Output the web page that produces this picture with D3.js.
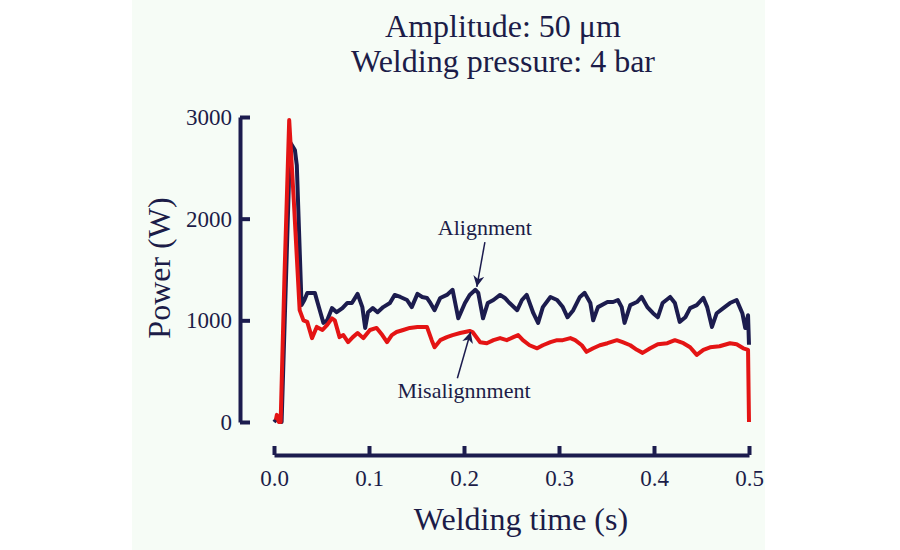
<!DOCTYPE html>
<html>
<head>
<meta charset="utf-8">
<script src="https://cdn.jsdelivr.net/npm/d3@7"></script>
<style>
    body { margin: 0; background: #ffffff; }
    text { font-family: "Liberation Serif", "DejaVu Serif", serif; fill: #1c1c48; }
</style>
</head>
<body>
<div id="chart"></div>
<script>
// welding time (s) and power (W)
let redTime = [0.002, 0.003, 0.005, 0.007, 0.011, 0.016, 0.021, 0.027, 0.031, 0.035, 0.040, 0.045, 0.051, 0.056, 0.061, 0.064,
    0.069, 0.073, 0.078, 0.083, 0.088, 0.094, 0.101, 0.108, 0.114, 0.119, 0.124, 0.129, 0.136, 0.143, 0.151, 0.161,
    0.166, 0.169, 0.175, 0.182, 0.188, 0.196, 0.206, 0.209, 0.217, 0.224, 0.231, 0.238, 0.245, 0.252, 0.257, 0.262,
    0.269, 0.277, 0.283, 0.291, 0.298, 0.304, 0.312, 0.317, 0.324, 0.329, 0.336, 0.343, 0.351, 0.361, 0.367, 0.375,
    0.382, 0.388, 0.396, 0.404, 0.414, 0.422, 0.431, 0.438, 0.445, 0.452, 0.459, 0.469, 0.480, 0.487, 0.494, 0.499, 0.500];
let redPower = [20, 70, 0, 0, 1425, 2970, 2150, 1100, 1000, 985, 825, 935, 905, 955, 1020, 1000,
    835, 855, 785, 835, 875, 825, 905, 925, 855, 785, 855, 885, 905, 925, 935, 935,
    805, 735, 805, 835, 855, 875, 895, 885, 785, 775, 805, 825, 805, 835, 855, 805,
    755, 725, 755, 785, 805, 805, 825, 805, 755, 690, 725, 755, 775, 805, 785, 755,
    710, 680, 725, 765, 775, 805, 775, 735, 660, 710, 735, 745, 775, 765, 725, 710, 0];

let blueTime = [0.000, 0.003, 0.006, 0.008, 0.017, 0.022, 0.024, 0.029, 0.032, 0.035, 0.043, 0.046, 0.052, 0.056, 0.061, 0.066,
    0.072, 0.077, 0.082, 0.088, 0.093, 0.096, 0.099, 0.104, 0.109, 0.115, 0.122, 0.127, 0.133, 0.140, 0.145, 0.151,
    0.156, 0.161, 0.164, 0.169, 0.175, 0.182, 0.188, 0.194, 0.201, 0.206, 0.212, 0.215, 0.220, 0.225, 0.231, 0.238,
    0.243, 0.248, 0.256, 0.261, 0.266, 0.273, 0.278, 0.283, 0.291, 0.298, 0.304, 0.309, 0.315, 0.322, 0.327, 0.333,
    0.336, 0.341, 0.351, 0.357, 0.362, 0.366, 0.369, 0.375, 0.382, 0.387, 0.393, 0.399, 0.404, 0.409, 0.417, 0.422,
    0.427, 0.433, 0.438, 0.445, 0.452, 0.456, 0.461, 0.466, 0.473, 0.480, 0.487, 0.493, 0.496, 0.499, 0.500];
let bluePower = [0, 30, 0, 0, 2750, 2675, 2525, 1150, 1200, 1270, 1270, 1170, 975, 1000, 1120, 1080,
    1120, 1170, 1170, 1260, 1130, 925, 1080, 1120, 1080, 1130, 1170, 1250, 1230, 1200, 1130, 1260,
    1230, 1220, 1180, 1100, 1220, 1250, 1300, 1020, 1170, 1250, 1300, 1270, 1020, 1170, 1200, 1250,
    1220, 1170, 1100, 1200, 1250, 1070, 975, 1130, 1230, 1200, 1130, 1030, 1100, 1230, 1270, 1170,
    1000, 1130, 1180, 1180, 1200, 1130, 975, 1150, 1180, 1230, 1130, 1070, 1030, 1170, 1230, 1170,
    985, 1030, 1120, 1150, 1220, 1130, 935, 1070, 1120, 1170, 1200, 1070, 925, 1050, 760];

let xTicks = [0.0, 0.1, 0.2, 0.3, 0.4, 0.5];
let yTicks = [0, 1000, 2000, 3000];
let titleLines = ["Amplitude: 50 \u03bcm", "Welding pressure: 4 bar"];

// label text, anchor point [t, P] and arrow tail -> tip
let annoText = ["Alignment", "Misalignnment"];
let annoPos = [[0.222, 1840], [0.200, 236]];
let annoTail = [[0.222, 1770], [0.193, 430]];
let annoTip = [[0.2135, 1330], [0.207, 885]];

lineChart();

function lineChart() {
    let width = 900, height = 550;
    let navy = "#1c1c4e", red = "#e41414";

    let svg = d3.select("#chart").append("svg")
        .attr("width", width)
        .attr("height", height);

    // pale panel behind the chart
    svg.append("rect")
        .attr("x", 132)
        .attr("y", 0)
        .attr("width", 633)
        .attr("height", height)
        .attr("fill", "#f6fcf6");

    let x = d3.scaleLinear().domain([0, 0.5]).range([274, 749]);
    let y = d3.scaleLinear().domain([0, 3000]).range([422, 117]);

    svg.append("defs").append("marker")
        .attr("id", "head")
        .attr("viewBox", "0 0 10 10")
        .attr("refX", 10)
        .attr("refY", 5)
        .attr("markerWidth", 15)
        .attr("markerHeight", 11)
        .attr("markerUnits", "userSpaceOnUse")
        .attr("orient", "auto")
        .append("path")
        .attr("d", "M0,0 L10,5 L0,10 L3,5 z")
        .attr("fill", navy);

    // x axis, offset below the plot
    let xAxis = svg.append("g")
        .attr("transform", "translate(0,455)")
        .call(d3.axisBottom(x)
            .tickValues(xTicks)
            .tickFormat(d3.format(".1f"))
            .tickSize(-9)
            .tickSizeOuter(0)
            .tickPadding(15));

    // y axis, offset to the left
    let yAxis = svg.append("g")
        .attr("transform", "translate(240,0)")
        .call(d3.axisLeft(y)
            .tickValues(yTicks)
            .tickFormat(d3.format("d"))
            .tickSize(-10)
            .tickSizeOuter(0)
            .tickPadding(8));

    [xAxis, yAxis].forEach(function(g) {
        g.select(".domain").attr("stroke", navy).attr("stroke-width", 4);
        g.selectAll(".tick line").attr("stroke", navy).attr("stroke-width", 4);
        g.selectAll(".tick text")
            .style("font-family", "Liberation Serif, serif")
            .style("font-size", "23px")
            .attr("fill", "#24244a");
    });

    let line = d3.line()
        .x(d => x(d[0]))
        .y(d => y(d[1]));

    svg.append("path")
        .datum(d3.zip(blueTime, bluePower))
        .attr("d", line)
        .attr("fill", "none")
        .attr("stroke", navy)
        .attr("stroke-width", 4)
        .attr("stroke-linejoin", "round");

    svg.append("path")
        .datum(d3.zip(redTime, redPower))
        .attr("d", line)
        .attr("fill", "none")
        .attr("stroke", red)
        .attr("stroke-width", 4)
        .attr("stroke-linejoin", "round");

    // annotations
    annoText.forEach(function(t, i) {
        svg.append("text")
            .attr("x", x(annoPos[i][0]))
            .attr("y", y(annoPos[i][1]))
            .style("text-anchor", "middle")
            .style("font-size", "22px")
            .text(t);

        svg.append("line")
            .attr("x1", x(annoTail[i][0]))
            .attr("y1", y(annoTail[i][1]))
            .attr("x2", x(annoTip[i][0]))
            .attr("y2", y(annoTip[i][1]))
            .attr("stroke", navy)
            .attr("stroke-width", 1.5)
            .attr("marker-end", "url(#head)");
    });

    // titles
    svg.selectAll(".title")
        .data(titleLines)
        .enter()
        .append("text")
        .attr("class", "title")
        .attr("x", 503)
        .attr("y", (d, i) => 37 + i * 35)
        .style("text-anchor", "middle")
        .style("font-size", "32px")
        .text(d => d);

    svg.append("text")
        .attr("x", 521)
        .attr("y", 530)
        .style("text-anchor", "middle")
        .style("font-size", "32px")
        .text("Welding time (s)");

    svg.append("text")
        .attr("transform", "translate(170,268) rotate(-90)")
        .style("text-anchor", "middle")
        .style("font-size", "32px")
        .text("Power (W)");
}
</script>
</body>
</html>
